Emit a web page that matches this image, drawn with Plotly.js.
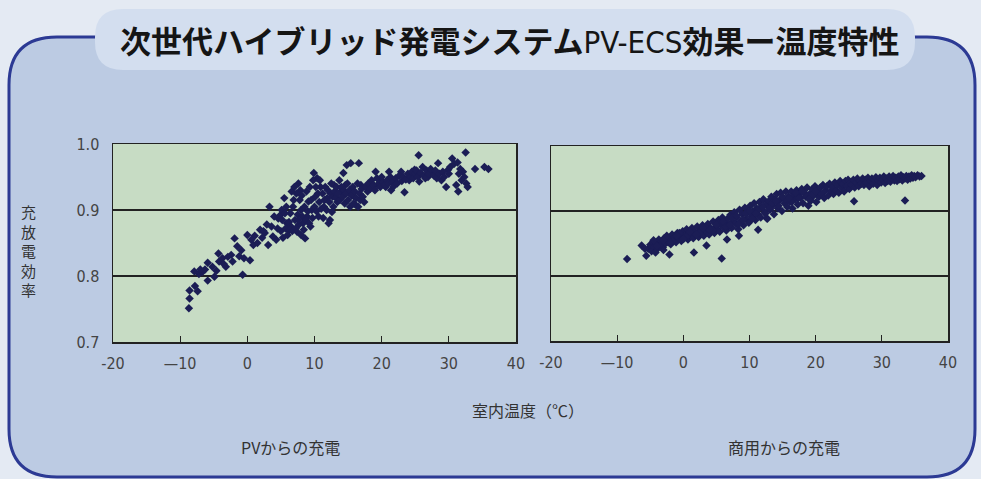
<!DOCTYPE html>
<html>
<head>
<meta charset="utf-8">
<script src="https://cdn.plot.ly/plotly-3.0.1.min.js"></script>
<style>
html,body{margin:0;padding:0;background:#e4eaf3;}
#chart{width:981px;height:479px;}
</style>
</head>
<body>
<div id="chart"></div>
<script>
// ---- data ----
const chartTitleA = "次世代ハイブリッド発電システム";
const chartTitleB = "PV-ECS";
const chartTitleC = "効果ー温度特性";
const yAxisLabel = "充放電効率";
const xAxisLabel = "室内温度（℃）";
const panelLabels = ["PVからの充電", "商用からの充電"];
const xTickVals = [-20, -10, 0, 10, 20, 30, 40];
const xTickText = ["-20", "—10", "0", "10", "20", "30", "40"];
const yTickVals = [0.7, 0.8, 0.9, 1.0];
const yTickText = ["0.7", "0.8", "0.9", "1.0"];

// PVからの充電 (temperature, efficiency)
const pvTemp = [
 -8.7,-8.6,-8.6,-7.8,-7.4,-7.9,-7.2,-6.7,-5.9,-5.9,-5.2,-4.9,-4.3,-4.2,-3.7,-3.2,-2.9,-2.4,-1.9,-2.2,
 -0.9,-0.7,-0.5,0.0,0.4,0.9,1.1,1.9,2.6,3.1,3.3,3.6,4.3,4.6,4.9,5.1,5.5,5.9,6.1,6.4,
 6.6,6.9,7.1,7.4,7.6,7.9,8.0,8.3,8.6,8.9,9.1,9.4,9.6,9.9,10.1,10.4,10.6,10.9,11.4,11.9,
 12.1,12.4,12.6,12.9,13.4,13.9,14.3,14.6,14.8,15.4,15.9,16.1,16.6,16.9,17.4,17.9,19.1,19.4,19.9,20.6,
 21.1,21.4,21.9,22.9,23.4,24.1,24.9,25.5,25.6,26.1,26.9,27.6,28.4,28.9,29.6,29.9,30.5,31.1,31.4,31.9,
 32.1,32.5,32.6,33.9,35.3,35.9,
 5.2,5.6,5.8,6.2,6.5,6.8,7.0,7.3,7.5,7.7,7.8,8.1,8.2,8.4,8.5,8.7,8.8,9.0,9.2,9.3,
 9.5,9.7,9.8,10.0,10.2,10.3,10.5,10.7,10.8,11.0,11.2,11.3,11.5,11.6,11.8,12.0,12.2,12.3,12.5,12.7,
 12.8,13.0,13.2,13.3,13.5,13.7,13.8,14.0,14.2,14.4,14.5,14.7,14.9,15.0,15.2,15.3,15.5,15.7,15.8,16.0,
 16.2,16.4,16.5,16.7,16.8,17.0,17.2,
 3.8,4.0,4.5,5.0,5.3,5.7,6.0,6.3,6.7,7.2,7.6,8.0,1.5,2.2,2.9,-1.5,-3.5,-4.6,-6.3,-7.0,-1.2,0.6,2.4,
 17.6,18.0,18.3,18.5,18.8,19.0,19.3,19.6,19.8,20.0,20.2,20.4,20.8,21.0,21.3,21.6,21.8,22.1,22.3,22.6,
 23.0,23.2,23.6,23.9,24.3,24.5,24.7,25.0,25.2,25.4,25.8,26.3,26.5,26.7,27.0,27.3,27.8,28.0,28.2,28.6,
 29.1,29.3,30.0,30.2,30.8,31.5,31.7,32.3,32.8,31.3
];
const pvEff = [
 0.751,0.766,0.778,0.785,0.777,0.807,0.803,0.806,0.820,0.793,0.814,0.799,0.834,0.822,0.827,0.814,0.829,0.832,0.857,0.822,
 0.839,0.802,0.827,0.862,0.824,0.847,0.861,0.870,0.865,0.847,0.905,0.875,0.855,0.887,0.892,0.900,0.918,0.880,0.870,0.895,
 0.928,0.915,0.885,0.867,0.940,0.930,0.900,0.880,0.857,0.890,0.913,0.875,0.900,0.956,0.920,0.948,0.890,0.935,0.905,0.918,
 0.880,0.925,0.897,0.938,0.912,0.928,0.956,0.938,0.968,0.971,0.920,0.908,0.971,0.938,0.912,0.928,0.958,0.938,0.945,0.935,
 0.958,0.930,0.945,0.958,0.927,0.945,0.961,0.983,0.943,0.965,0.950,0.958,0.971,0.945,0.935,0.961,0.978,0.938,0.928,0.945,
 0.958,0.987,0.940,0.962,0.965,0.962,
 0.885,0.895,0.905,0.882,0.875,0.905,0.935,0.925,0.893,0.878,0.915,0.922,0.890,0.870,0.905,0.885,0.928,0.898,0.880,0.935,
 0.915,0.888,0.945,0.905,0.935,0.898,0.925,0.912,0.945,0.902,0.925,0.888,0.915,0.935,0.900,0.930,0.912,0.885,0.940,0.920,
 0.905,0.928,0.918,0.935,0.925,0.945,0.915,0.935,0.920,0.930,0.910,0.925,0.940,0.915,0.930,0.905,0.922,0.935,0.910,0.928,
 0.918,0.940,0.905,0.925,0.915,0.932,0.920,
 0.860,0.890,0.872,0.868,0.858,0.872,0.862,0.870,0.868,0.872,0.885,0.862,0.850,0.858,0.878,0.845,0.818,0.808,0.810,0.810,0.830,0.855,0.868,
 0.935,0.940,0.932,0.945,0.938,0.930,0.948,0.940,0.935,0.950,0.942,0.938,0.945,0.940,0.950,0.942,0.936,0.948,0.940,0.952,
 0.944,0.950,0.946,0.955,0.950,0.958,0.948,0.955,0.960,0.950,0.956,0.952,0.948,0.960,0.955,0.962,0.952,0.960,0.948,0.955,
 0.958,0.950,0.955,0.965,0.970,0.955,0.962,0.950,0.935,0.972
];

// 商用からの充電 (temperature, efficiency)
const gridTemp = [
 -5.3,-5.0,-4.8,-4.6,-4.4,-4.1,-3.9,-3.7,-3.5,-3.3,-3.1,-2.9,-2.7,-2.5,-2.3,-2.1,
 -1.9,-1.7,-1.5,-1.3,-1.1,-0.9,-0.7,-0.5,-0.3,-0.1,0.1,0.3,0.5,0.7,0.9,
 1.1,1.3,1.5,1.7,1.9,2.1,2.3,2.5,2.7,2.9,3.1,3.3,3.5,3.7,3.9,4.1,4.3,4.5,4.7,4.9,
 5.1,5.3,5.5,5.7,5.9,6.1,6.3,6.5,6.7,6.9,7.1,7.3,7.5,7.7,7.9,
 8.1,8.3,8.5,8.7,8.9,9.1,9.3,9.5,9.7,9.9,10.1,10.3,10.5,10.7,10.9,11.1,
 11.3,11.5,11.7,11.9,12.1,12.3,12.5,12.7,12.9,13.1,13.3,13.5,13.7,13.9,14.1,14.3,
 14.5,14.7,14.9,15.1,15.3,15.5,15.7,15.9,16.1,16.3,16.5,16.7,16.9,17.1,17.3,17.5,
 17.7,17.9,18.1,18.3,18.5,18.7,18.9,19.1,19.3,19.5,19.7,19.9,20.1,20.3,20.5,20.7,
 20.9,21.1,21.3,21.5,21.7,21.9,22.1,22.3,22.5,22.7,22.9,23.1,23.3,23.5,23.7,23.9,
 24.1,24.3,24.5,24.7,24.9,25.1,25.3,25.5,25.7,25.9,26.1,26.3,26.5,26.7,26.9,27.1,
 27.3,27.5,27.7,27.9,28.1,28.3,28.5,28.7,28.9,29.1,29.3,29.5,29.7,29.9,30.1,30.3,
 30.5,30.7,30.9,31.1,31.3,31.5,31.7,31.9,32.1,32.3,32.5,32.7,32.9,33.1,33.3,33.5,
 33.7,33.9,34.1,34.3,34.5,34.7,34.9,35.1,35.4,35.7,36.0,
 -8.5,-6.3,-5.6,-2.1,1.6,3.5,5.8,6.6,12.6,11.3,25.8,33.5,-5.8,-4.2,8.4,-3.0,
 -4.5,-3.6,-2.6,-1.6,-0.6,0.4,1.4,2.4,3.4,4.4,5.4,6.4,7.4,8.4,9.4,10.4,11.4,12.4,13.4,14.4,
 15.4,16.4,17.4,18.4,19.4,-4.0,-3.0,-2.0,-1.0,0.0,1.0,2.0,3.0,4.0,5.0,6.0,7.0,8.0,9.0,10.0,
 11.0,12.0,13.0,14.0,15.0,16.0,17.0,18.0,19.0,20.0
];
const gridEff = [
 0.842,0.848,0.838,0.852,0.845,0.850,0.842,0.856,0.847,0.853,0.844,0.858,0.850,0.862,0.852,0.857,
 0.849,0.864,0.855,0.860,0.852,0.866,0.858,0.862,0.854,0.869,0.858,0.864,0.872,0.856,0.866,
 0.861,0.874,0.858,0.868,0.863,0.876,0.860,0.870,0.866,0.878,0.862,0.872,0.868,0.880,0.864,0.874,0.869,0.884,0.866,0.876,
 0.872,0.886,0.868,0.878,0.890,0.874,0.882,0.870,0.888,0.878,0.894,0.874,0.884,0.898,0.880,
 0.890,0.872,0.902,0.884,0.895,0.878,0.905,0.888,0.898,0.882,0.908,0.892,0.900,0.912,0.886,0.904,
 0.895,0.914,0.890,0.906,0.918,0.898,0.910,0.888,0.915,0.902,0.922,0.908,0.895,0.918,0.926,0.904,
 0.916,0.928,0.900,0.920,0.912,0.930,0.906,0.922,0.914,0.930,0.904,0.924,0.918,0.932,0.910,0.926,
 0.920,0.934,0.912,0.928,0.922,0.936,0.908,0.926,0.916,0.934,0.924,0.938,0.914,0.930,0.922,0.936,
 0.926,0.940,0.920,0.932,0.938,0.924,0.942,0.930,0.936,0.926,0.944,0.932,0.940,0.928,0.946,0.936,
 0.942,0.930,0.946,0.938,0.948,0.934,0.944,0.940,0.948,0.936,0.944,0.950,0.938,0.946,0.942,0.950,
 0.940,0.948,0.944,0.951,0.938,0.946,0.950,0.942,0.948,0.952,0.940,0.947,0.951,0.944,0.949,0.953,
 0.943,0.950,0.946,0.953,0.945,0.950,0.954,0.947,0.951,0.946,0.953,0.949,0.955,0.947,0.952,0.950,
 0.954,0.948,0.953,0.950,0.955,0.951,0.954,0.952,0.955,0.953,0.954,
 0.826,0.847,0.831,0.833,0.836,0.847,0.827,0.856,0.889,0.871,0.915,0.916,0.842,0.836,0.862,0.840,
 0.855,0.846,0.860,0.853,0.866,0.860,0.870,0.866,0.875,0.870,0.882,0.876,0.890,0.880,0.896,0.888,0.903,0.896,0.912,0.908,
 0.918,0.914,0.920,0.926,0.924,0.846,0.855,0.851,0.862,0.857,0.868,0.864,0.874,0.871,0.879,0.884,0.879,0.893,0.886,0.900,
 0.896,0.906,0.904,0.915,0.922,0.920,0.928,0.930,0.918,0.930
];

// ---- drawing ----
const W = 981, H = 479;
const X = px => px / W;
const Y = py => 1 - py / H;
function roundRect(x0, y0, x1, y1, r) {
  const f = v => v.toFixed(5);
  return `M ${f(X(x0 + r))},${f(Y(y0))} L ${f(X(x1 - r))},${f(Y(y0))} Q ${f(X(x1))},${f(Y(y0))} ${f(X(x1))},${f(Y(y0 + r))}` +
    ` L ${f(X(x1))},${f(Y(y1 - r))} Q ${f(X(x1))},${f(Y(y1))} ${f(X(x1 - r))},${f(Y(y1))}` +
    ` L ${f(X(x0 + r))},${f(Y(y1))} Q ${f(X(x0))},${f(Y(y1))} ${f(X(x0))},${f(Y(y1 - r))}` +
    ` L ${f(X(x0))},${f(Y(y0 + r))} Q ${f(X(x0))},${f(Y(y0))} ${f(X(x0 + r))},${f(Y(y0))} Z`;
}

const narrow = "'Liberation Sans Narrow', 'DejaVu Sans Condensed', sans-serif";
const numFont = {family: narrow, size: 16, color: "#444"};
const jpFont = {family: "'Noto Sans CJK JP', sans-serif", size: 16, color: "#333"};
const markerStyle = {color: "#1b1d55", size: 6.5, symbol: "diamond"};

const traces = [
  {type: "scatter", mode: "markers", x: pvTemp, y: pvEff, xaxis: "x", yaxis: "y",
   marker: markerStyle, hoverinfo: "x+y"},
  {type: "scatter", mode: "markers", x: gridTemp, y: gridEff, xaxis: "x2", yaxis: "y2",
   marker: Object.assign({}, markerStyle, {size: 6.5}), hoverinfo: "x+y"}
];

const xBase = {
  range: [-20, 40], tickvals: xTickVals, ticktext: xTickText,
  ticks: "inside", ticklen: 6, tickwidth: 1.2, tickcolor: "#222",
  showline: true, mirror: true, linecolor: "#222", linewidth: 1.5,
  showgrid: false, zeroline: false, tickfont: numFont, ticklabelstandoff: 6, fixedrange: true
};
const yBase = {
  range: [0.7, 1.0], tickvals: yTickVals, ticktext: yTickText,
  showgrid: true, gridcolor: "#222", gridwidth: 1.4,
  showline: true, mirror: true, linecolor: "#222", linewidth: 1.5,
  zeroline: false, tickfont: numFont, ticks: "", ticklabelstandoff: 9, fixedrange: true
};

const titleHtml = chartTitleA + "<span style=\"font-family:DejaVu Sans Condensed;font-weight:normal\">" + chartTitleB + "</span>" + chartTitleC;

const layout = {
  width: W, height: H,
  margin: {l: 0, r: 0, t: 0, b: 0},
  paper_bgcolor: "#e4eaf3",
  plot_bgcolor: "rgba(0,0,0,0)",
  showlegend: false,
  xaxis: Object.assign({}, xBase, {domain: [X(113), X(516)], anchor: "y"}),
  yaxis: Object.assign({}, yBase, {domain: [Y(342), Y(144)], anchor: "x"}),
  xaxis2: Object.assign({}, xBase, {domain: [X(551), X(948)], anchor: "y2"}),
  yaxis2: Object.assign({}, yBase, {domain: [Y(341), Y(146)], anchor: "x2", showticklabels: false}),
  shapes: [
    {type: "path", xref: "paper", yref: "paper", layer: "below",
     path: roundRect(9, 37, 975, 477, 48),
     fillcolor: "#bccbe3", line: {color: "#2c3a94", width: 3}},
    {type: "path", xref: "paper", yref: "paper", layer: "below",
     path: roundRect(95, 9, 915, 70, 28),
     fillcolor: "#d3deef", line: {width: 0}},
    {type: "rect", xref: "x domain", yref: "y domain", x0: 0, x1: 1, y0: 0, y1: 1,
     layer: "below", fillcolor: "#c7dcc4", line: {width: 0}},
    {type: "rect", xref: "x2 domain", yref: "y2 domain", x0: 0, x1: 1, y0: 0, y1: 1,
     layer: "below", fillcolor: "#c7dcc4", line: {width: 0}}
  ],
  annotations: [
    {text: titleHtml, xref: "paper", yref: "paper", x: X(510), y: Y(39),
     showarrow: false, xanchor: "center", yanchor: "middle",
     font: {family: "'Noto Sans CJK JP', sans-serif", size: 31, color: "#151515", weight: 700}},
    {text: yAxisLabel.split("").join("<br>"), xref: "paper", yref: "paper", x: X(28), y: Y(250),
     showarrow: false, xanchor: "center", yanchor: "middle", font: Object.assign({}, jpFont, {size: 15})},
    {text: xAxisLabel, xref: "paper", yref: "paper", x: X(528), y: Y(410),
     showarrow: false, xanchor: "center", yanchor: "middle", font: jpFont},
    {text: panelLabels[0], xref: "paper", yref: "paper", x: X(290), y: Y(447),
     showarrow: false, xanchor: "center", yanchor: "middle", font: jpFont},
    {text: panelLabels[1], xref: "paper", yref: "paper", x: X(784), y: Y(447),
     showarrow: false, xanchor: "center", yanchor: "middle", font: jpFont}
  ]
};

Plotly.newPlot("chart", traces, layout, {displayModeBar: false, staticPlot: true});
</script>
</body>
</html>
